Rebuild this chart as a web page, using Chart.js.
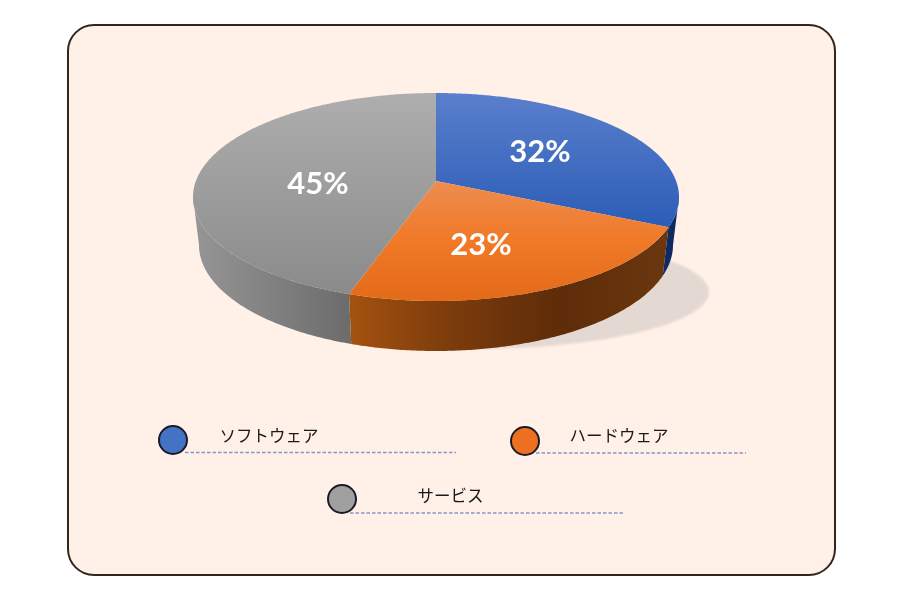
<!DOCTYPE html>
<html lang="ja">
<head>
<meta charset="utf-8">
<style>html,body{margin:0;padding:0;background:#fff}canvas{display:block}</style>
<script src="https://cdn.jsdelivr.net/npm/chart.js@4"></script>
</head>
<body>
<canvas id="c" width="900" height="600"></canvas>
<script>
const categories = ['ソフトウェア', 'ハードウェア', 'サービス'];
const shares = [32, 23, 45];
const swatchColors = ['#4472c4', '#ed7022', '#a0a0a0'];

// layout and style constants (not data)
const PIE = { cx: 436, cy: 197, rx: 243, ry: 104, bcy: 245, brx: 237, bry: 106, tilt: 0.154 };
const topStops = [
  [[93, '#5a7fcc'], [226, '#2c5db7']],
  [[181, '#ee8c50'], [240, '#f07a28'], [301, '#e36a19']],
  [[93, '#aeaeae'], [295, '#8a8a8a']]
];
const sideStops = [
  [[663, '#0f2a66'], [678, '#102a5c']],
  [[348, '#a5520f'], [450, '#7c3c0c'], [560, '#5e2c09'], [668, '#6b370f']],
  [[193, '#969696'], [348, '#6c6c6c']]
];
const labelAnchors = [[540, 152], [481, 245], [318, 184]];
const legendLayout = [
  { dot: [173, 440], text: [219.5, 436], line: [185, 456, 452.5] },
  { dot: [525, 441], text: [569.5, 436], line: [536, 746, 453] },
  { dot: [342, 499], text: [417.5, 496], line: [350, 625, 513] }
];

function project(theta) {
  const x = Math.sin(theta), y = Math.cos(theta), a = PIE.tilt;
  const d = 1 + a * y;
  return { u: x * Math.sqrt(1 - a * a) / d, v: (y + a) / d };
}
const topPt = p => [PIE.cx + p.u * PIE.rx, PIE.cy - p.v * PIE.ry];
const botPt = p => [PIE.cx + p.u * PIE.brx, PIE.bcy - p.v * PIE.bry];

function sampled(t0, t1) {
  const n = Math.max(2, Math.ceil((t1 - t0) / 0.01)), out = [];
  for (let i = 0; i <= n; i++) out.push(project(t0 + (t1 - t0) * i / n));
  return out;
}
function gradient(ctx, stops, vertical) {
  const a = stops[0][0], b = stops[stops.length - 1][0];
  const g = vertical ? ctx.createLinearGradient(0, a, 0, b) : ctx.createLinearGradient(a, 0, b, 0);
  stops.forEach(s => g.addColorStop((s[0] - a) / (b - a), s[1]));
  return g;
}

const scene = {
  id: 'scene',
  beforeDraw(chart) {
    const ctx = chart.ctx;
    ctx.save();
    ctx.beginPath();
    ctx.roundRect(68, 25, 767, 550, 26);
    ctx.fillStyle = '#fff0e8';
    ctx.fill();
    ctx.lineWidth = 2;
    ctx.strokeStyle = '#35261b';
    ctx.stroke();
    ctx.restore();
  },
  beforeDatasetDraw() { return false; },
  afterDatasetsDraw(chart) {
    const ctx = chart.ctx;
    const arcs = chart.getDatasetMeta(0).data;
    const base = Math.acos(-PIE.tilt);   // where the rim turns to the back
    ctx.save();

    // cast shadow, only showing on the right of the pie
    ctx.save();
    ctx.beginPath();
    ctx.rect(420, 200, 320, 170);
    ctx.clip();
    ctx.filter = 'blur(1px)';
    ctx.fillStyle = '#e4d9d2';
    ctx.beginPath();
    ctx.ellipse(470, 292, 239, 57, 0, 0, Math.PI * 2);
    ctx.fill();
    ctx.restore();

    // sides
    arcs.forEach((arc, i) => {
      const t0 = Math.max(arc.startAngle + Math.PI / 2, base);
      const t1 = Math.min(arc.endAngle + Math.PI / 2, Math.PI * 2 - base);
      if (t1 <= t0) return;
      const rim = sampled(t0, t1);
      ctx.beginPath();
      rim.forEach((p, k) => { const q = topPt(p); k ? ctx.lineTo(q[0], q[1]) : ctx.moveTo(q[0], q[1]); });
      rim.slice().reverse().forEach(p => { const q = botPt(p); ctx.lineTo(q[0], q[1]); });
      ctx.closePath();
      ctx.fillStyle = gradient(ctx, sideStops[i], false);
      ctx.fill();
    });

    // top faces
    const apex = topPt({ u: 0, v: PIE.tilt });
    arcs.forEach((arc, i) => {
      const rim = sampled(arc.startAngle + Math.PI / 2, arc.endAngle + Math.PI / 2);
      ctx.beginPath();
      ctx.moveTo(apex[0], apex[1]);
      rim.forEach(p => { const q = topPt(p); ctx.lineTo(q[0], q[1]); });
      ctx.closePath();
      ctx.fillStyle = gradient(ctx, topStops[i], true);
      ctx.fill();
    });

    // value labels
    ctx.fillStyle = '#ffffff';
    ctx.font = '700 31px Lato, sans-serif';
    ctx.textAlign = 'center';
    ctx.textBaseline = 'middle';
    shares.forEach((v, i) => ctx.fillText(v + '%', labelAnchors[i][0], labelAnchors[i][1]));

    // legend
    categories.forEach((name, i) => {
      const l = legendLayout[i];
      ctx.save();
      ctx.setLineDash([3.5, 2]);
      ctx.lineWidth = 1.6;
      ctx.strokeStyle = '#8498c0';
      ctx.beginPath();
      ctx.moveTo(l.line[0], l.line[2]);
      ctx.lineTo(l.line[1], l.line[2]);
      ctx.stroke();
      ctx.restore();

      ctx.beginPath();
      ctx.arc(l.dot[0], l.dot[1], 14, 0, Math.PI * 2);
      ctx.fillStyle = swatchColors[i];
      ctx.fill();
      ctx.lineWidth = 2;
      ctx.strokeStyle = '#1c1a26';
      ctx.stroke();

      ctx.fillStyle = '#1a1a1a';
      ctx.font = '400 16.5px "Noto Sans CJK JP", sans-serif';
      ctx.textAlign = 'left';
      ctx.textBaseline = 'middle';
      ctx.fillText(name, l.text[0], l.text[1]);
    });
    ctx.restore();
  }
};

new Chart(document.getElementById('c'), {
  type: 'pie',
  data: {
    labels: categories,
    datasets: [{ data: shares, backgroundColor: swatchColors, borderWidth: 0 }]
  },
  options: {
    responsive: false,
    animation: false,
    plugins: { legend: { display: false }, tooltip: { enabled: false } }
  },
  plugins: [scene]
});
</script>
</body>
</html>
